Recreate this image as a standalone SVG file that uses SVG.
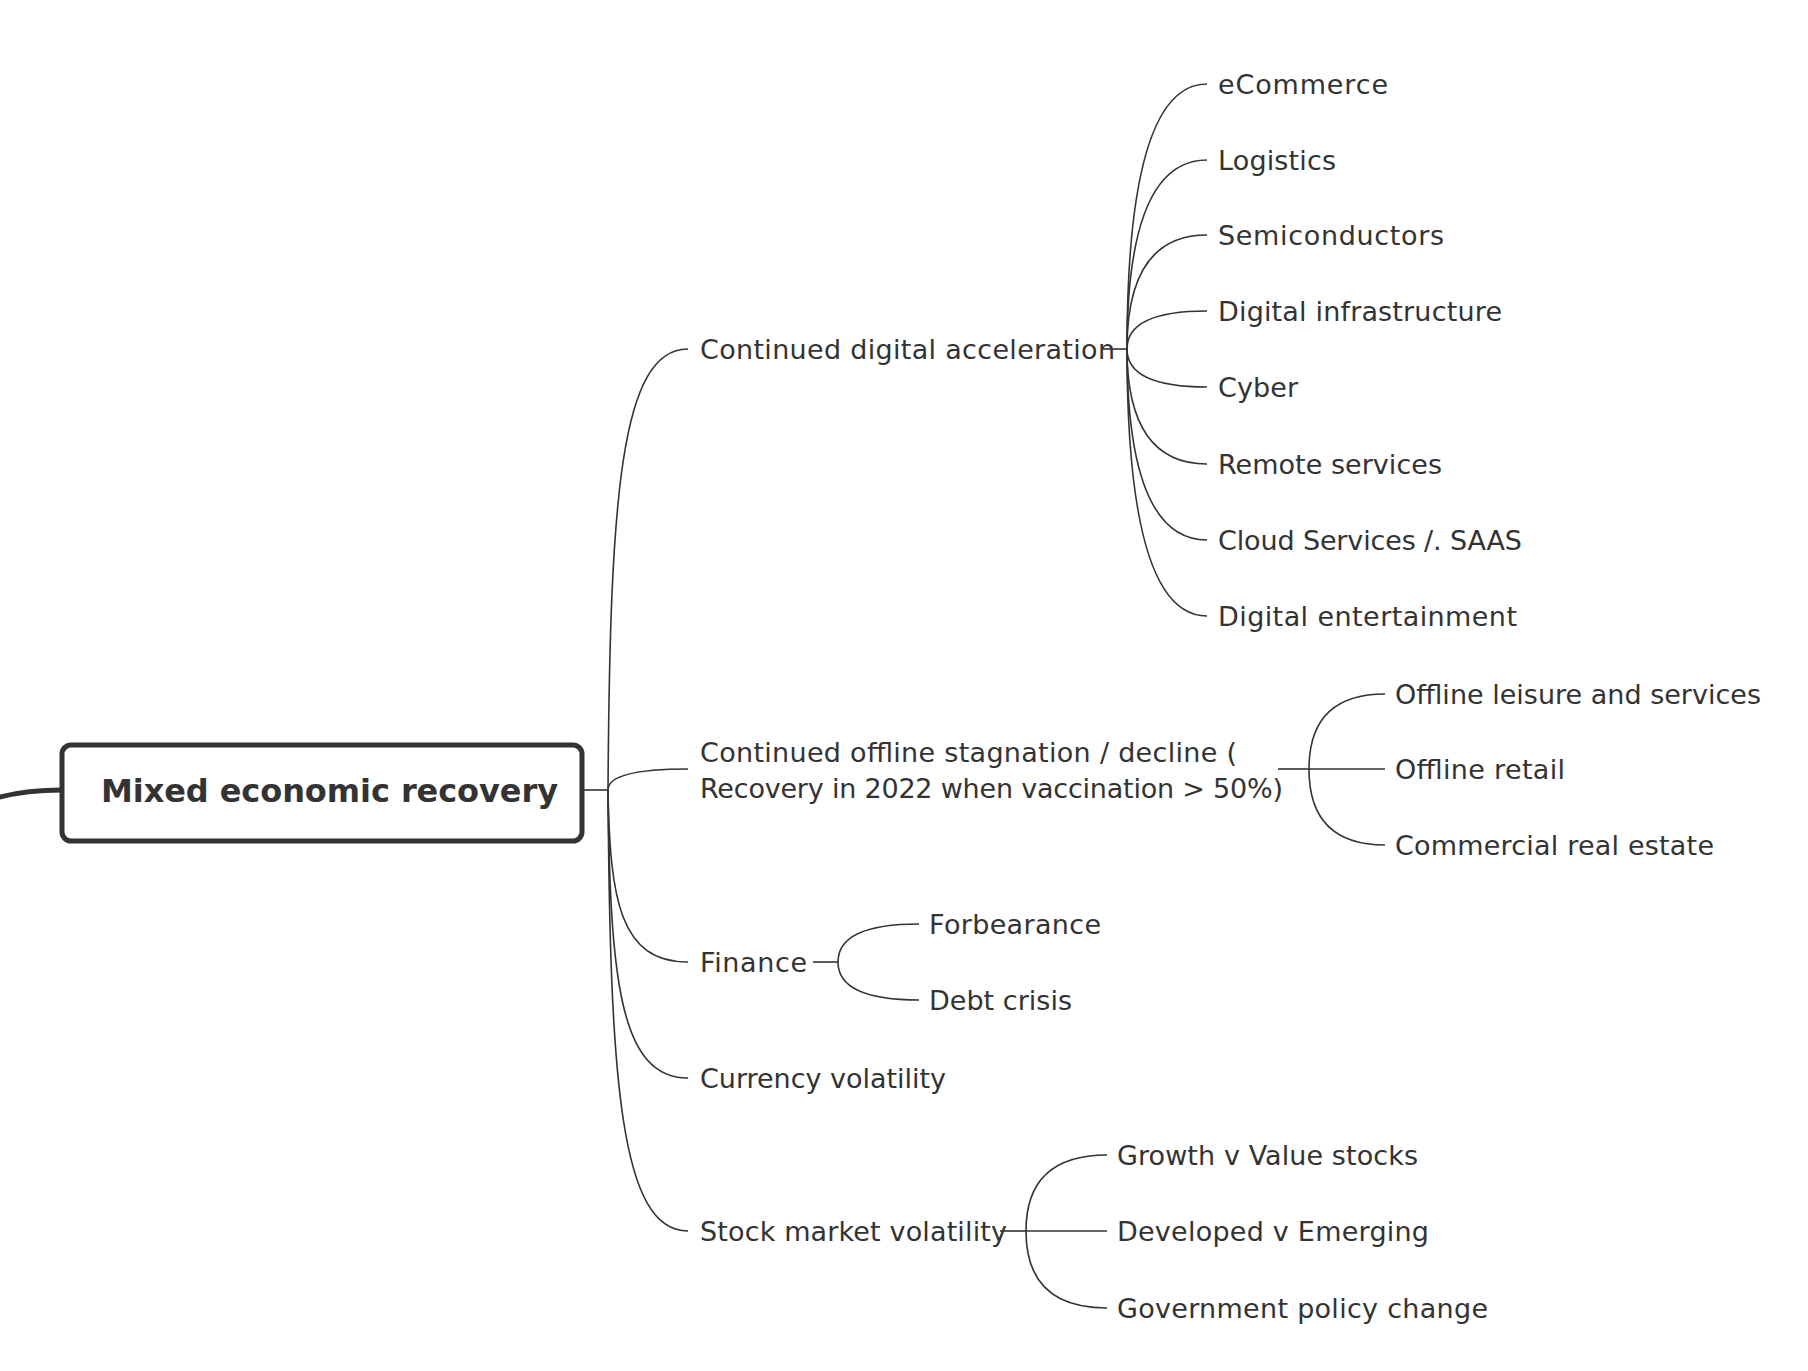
<svg xmlns="http://www.w3.org/2000/svg" width="1808" height="1371" viewBox="0 0 1808 1371">
<style>
.c{fill:none;stroke:#333;stroke-width:1.6}
.t{font-family:"DejaVu Sans","Liberation Sans",sans-serif;font-size:27px;fill:#333}
.root{font-family:"DejaVu Sans","Liberation Sans",sans-serif;font-size:32px;font-weight:bold;fill:#333}
</style>
<rect width="1808" height="1371" fill="#fff"/>
<g id="connectors">
<path d="M-10 800 Q20 790 62 790" fill="none" stroke="#333" stroke-width="5"/>
<path class="c" d="M583 790 H608"/>
<path class="c" d="M608 790 C610 500 620 349 688 349"/>
<path class="c" d="M608 790 Q608 769 688 769"/>
<path class="c" d="M608 790 C610 900 620 962 688 962"/>
<path class="c" d="M608 790 C610 980 620 1078 688 1078"/>
<path class="c" d="M608 790 C610 1080 620 1231 688 1231"/>
<path class="c" d="M1103 349 H1127"/>
<path class="c" d="M1127 349 Q1127 84 1207 84"/>
<path class="c" d="M1127 349 Q1127 160 1207 160"/>
<path class="c" d="M1127 349 Q1127 235 1207 235"/>
<path class="c" d="M1127 349 Q1127 311 1207 311"/>
<path class="c" d="M1127 349 Q1127 387 1207 387"/>
<path class="c" d="M1127 349 Q1127 464 1207 464"/>
<path class="c" d="M1127 349 Q1127 540 1207 540"/>
<path class="c" d="M1127 349 Q1127 616 1207 616"/>
<path class="c" d="M1278 769 H1309"/>
<path class="c" d="M1309 769 Q1309 694 1385 694"/>
<path class="c" d="M1309 769 H1385"/>
<path class="c" d="M1309 769 Q1309 845 1385 845"/>
<path class="c" d="M813 962 H838"/>
<path class="c" d="M838 962 Q838 924 919 924"/>
<path class="c" d="M838 962 Q838 1000 919 1000"/>
<path class="c" d="M1000 1231 H1026"/>
<path class="c" d="M1026 1231 Q1026 1155 1107 1155"/>
<path class="c" d="M1026 1231 H1107"/>
<path class="c" d="M1026 1231 Q1026 1308 1107 1308"/>
</g>
<g id="root">
<rect x="62" y="745" width="520" height="96" rx="9" fill="#fff" stroke="#333" stroke-width="5"/>
<text class="root" x="101" y="802" textLength="457">Mixed economic recovery</text>
</g>
<g id="n-digital"><text class="t" x="700" y="359" textLength="415">Continued digital acceleration</text></g>
<g id="n-ecommerce"><text class="t" x="1218" y="94" textLength="170">eCommerce</text></g>
<g id="n-logistics"><text class="t" x="1218" y="170" textLength="118">Logistics</text></g>
<g id="n-semi"><text class="t" x="1218" y="245" textLength="226">Semiconductors</text></g>
<g id="n-infra"><text class="t" x="1218" y="321" textLength="284">Digital infrastructure</text></g>
<g id="n-cyber"><text class="t" x="1218" y="397" textLength="80">Cyber</text></g>
<g id="n-remote"><text class="t" x="1218" y="474" textLength="224">Remote services</text></g>
<g id="n-cloud"><text class="t" x="1218" y="550" textLength="304">Cloud Services /. SAAS</text></g>
<g id="n-ent"><text class="t" x="1218" y="626" textLength="299">Digital entertainment</text></g>
<g id="n-offline"><text class="t" x="700" y="762" textLength="537">Continued offline stagnation / decline (</text><text class="t" x="700" y="798" textLength="583">Recovery in 2022 when vaccination &gt; 50%)</text></g>
<g id="n-leisure"><text class="t" x="1395" y="704" textLength="366">Offline leisure and services</text></g>
<g id="n-retail"><text class="t" x="1395" y="779" textLength="170">Offline retail</text></g>
<g id="n-cre"><text class="t" x="1395" y="855" textLength="319">Commercial real estate</text></g>
<g id="n-finance"><text class="t" x="700" y="972" textLength="107">Finance</text></g>
<g id="n-forbearance"><text class="t" x="929" y="934" textLength="172">Forbearance</text></g>
<g id="n-debt"><text class="t" x="929" y="1010" textLength="143">Debt crisis</text></g>
<g id="n-currency"><text class="t" x="700" y="1088" textLength="246">Currency volatility</text></g>
<g id="n-stock"><text class="t" x="700" y="1241" textLength="307">Stock market volatility</text></g>
<g id="n-growth"><text class="t" x="1117" y="1165" textLength="301">Growth v Value stocks</text></g>
<g id="n-developed"><text class="t" x="1117" y="1241" textLength="312">Developed v Emerging</text></g>
<g id="n-gov"><text class="t" x="1117" y="1318" textLength="371">Government policy change</text></g>
</svg>
